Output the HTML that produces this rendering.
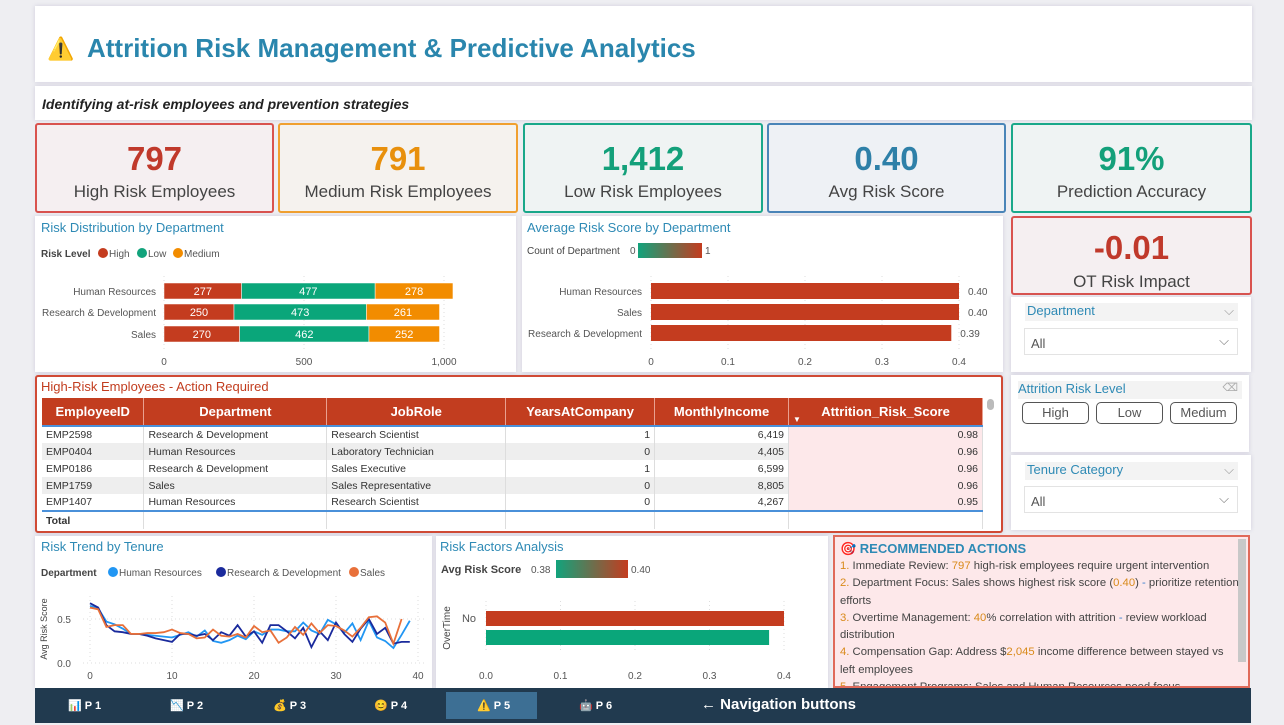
<!DOCTYPE html>
<html><head><meta charset="utf-8"><style>
*{box-sizing:border-box;margin:0;padding:0}
body{width:1284px;height:725px;background:#eeeef2;font-family:"Liberation Sans",sans-serif;position:relative;overflow:hidden;color:#333}
.p{position:absolute;background:#fff;box-shadow:0 0 4px rgba(120,110,160,.25)}
.kpi{position:absolute;border:2px solid;border-radius:3px;text-align:center}
.kpi .n{font-size:33px;font-weight:bold;margin-top:14px;line-height:40px}
.kpi .l{font-size:17px;color:#444;margin-top:3px}
.t{position:absolute;font-size:13px;color:#2e8ab5}
svg text{font-family:"Liberation Sans",sans-serif}
table{border-collapse:collapse;font-size:10.5px}
th{background:#c23d1f;color:#fff;font-size:13px;font-weight:bold;height:28px;border-right:1px solid #e9a090}
td{height:17px;padding:0 4px;border-right:1px solid #ddd;color:#333}
.sl{position:absolute;font-size:13px;color:#2e8ab5;background:#f3f3f3}
.dd{position:absolute;border:1px solid #e3e3e3;font-size:13px;color:#555;padding:7px 6px}
.btn{position:absolute;border:1px solid #555;border-radius:5px;font-size:13px;color:#555;text-align:center;line-height:20px;height:22px}
.nav{position:absolute;color:#fff;font-size:11px;font-weight:bold;top:699px}
</style></head><body>
<div class="p" style="left:35px;top:6px;width:1217px;height:76px">
<div style="position:absolute;left:12px;top:30px;font-size:22px">⚠️</div>
<div style="position:absolute;left:52px;top:27px;font-size:26px;font-weight:bold;color:#2a86ad">Attrition Risk Management &amp; Predictive Analytics</div></div>
<div class="p" style="left:35px;top:86px;width:1217px;height:34px">
<div style="position:absolute;left:7px;top:10px;font-size:14px;font-style:italic;font-weight:bold;color:#222">Identifying at-risk employees and prevention strategies</div></div>

<div class="kpi" style="left:35px;top:123px;width:239px;height:90px;border-color:#d9534f;background:#f5eff1"><div class="n" style="color:#c0392b">797</div><div class="l">High Risk Employees</div></div>
<div class="kpi" style="left:278px;top:123px;width:240px;height:90px;border-color:#f0a030;background:#f5f2ee"><div class="n" style="color:#e8900c">791</div><div class="l">Medium Risk Employees</div></div>
<div class="kpi" style="left:523px;top:123px;width:240px;height:90px;border-color:#1aa88a;background:#eff3f3"><div class="n" style="color:#13a07a">1,412</div><div class="l">Low Risk Employees</div></div>
<div class="kpi" style="left:767px;top:123px;width:239px;height:90px;border-color:#4a85b8;background:#eef1f5"><div class="n" style="color:#2e80a8">0.40</div><div class="l">Avg Risk Score</div></div>
<div class="kpi" style="left:1011px;top:123px;width:241px;height:90px;border-color:#1aa88a;background:#eff3f3"><div class="n" style="color:#13a07a">91%</div><div class="l">Prediction Accuracy</div></div>
<div class="kpi" style="left:1011px;top:216px;width:241px;height:79px;border-color:#d9534f;background:#f5eff1;overflow:hidden"><div class="n" style="color:#c0392b;margin-top:10px">-0.01</div><div class="l" style="margin-top:4px">OT Risk Impact</div></div>

<div class="p" style="left:35px;top:216px;width:481px;height:156px">
<div class="t" style="left:6px;top:4px">Risk Distribution by Department</div>
<svg id="dist" width="481" height="156" style="position:absolute;left:0;top:0"></svg></div>

<div class="p" style="left:522px;top:216px;width:481px;height:156px">
<div class="t" style="left:5px;top:4px">Average Risk Score by Department</div>
<svg id="avg" width="481" height="156" style="position:absolute;left:0;top:0"></svg></div>

<div class="p" style="left:1011px;top:297px;width:240px;height:75px">
<div class="sl" style="left:14px;top:6px;width:213px;height:18px;padding-left:2px">Department<span style="position:absolute;right:4px;color:#999">⌵</span></div>
<div class="dd" style="left:13px;top:31px;width:214px;height:27px">All<span style="position:absolute;right:8px;top:4px;color:#777">⌵</span></div></div>
<div class="p" style="left:1011px;top:375px;width:238px;height:77px">
<div class="sl" style="left:7px;top:6px;width:224px;height:18px">Attrition Risk Level<span style="position:absolute;right:4px;color:#aaa;font-size:11px">⌫</span></div>
<div class="btn" style="left:11px;top:27px;width:67px">High</div>
<div class="btn" style="left:85px;top:27px;width:67px">Low</div>
<div class="btn" style="left:159px;top:27px;width:67px">Medium</div></div>
<div class="p" style="left:1011px;top:455px;width:240px;height:75px">
<div class="sl" style="left:14px;top:7px;width:213px;height:18px;padding-left:2px">Tenure Category<span style="position:absolute;right:4px;color:#999">⌵</span></div>
<div class="dd" style="left:13px;top:31px;width:214px;height:27px">All<span style="position:absolute;right:8px;top:4px;color:#777">⌵</span></div></div>

<div class="p" style="left:35px;top:375px;width:968px;height:158px;border:2px solid #d04a35;border-radius:3px">
<div style="position:absolute;left:4px;top:2px;font-size:13px;color:#c23d1f">High-Risk Employees - Action Required</div>
<div style="position:absolute;left:950px;top:22px;width:7px;height:11px;border-radius:4px;background:#bbb"></div>
<table style="position:absolute;left:5px;top:21px;width:941px">
<colgroup><col style="width:102px"><col style="width:183px"><col style="width:179px"><col style="width:149px"><col style="width:134px"><col style="width:194px"></colgroup>
<tr style="border-bottom:2px solid #4a90d9"><th>EmployeeID</th><th>Department</th><th>JobRole</th><th>YearsAtCompany</th><th>MonthlyIncome</th><th style="position:relative">Attrition_Risk_Score<span style="position:absolute;left:4px;bottom:1px;font-size:8px">▼</span></th></tr>
<tbody id="tb"></tbody>
<tr style="border-top:2px solid #4a90d9"><td style="font-weight:bold;height:18px">Total</td><td></td><td></td><td></td><td></td><td></td></tr>
</table></div>

<div class="p" style="left:35px;top:536px;width:397px;height:152px">
<div class="t" style="left:6px;top:3px">Risk Trend by Tenure</div>
<svg id="trend" width="397" height="152" style="position:absolute;left:0;top:0"></svg></div>

<div class="p" style="left:436px;top:536px;width:392px;height:152px">
<div class="t" style="left:4px;top:3px">Risk Factors Analysis</div>
<svg id="fact" width="392" height="152" style="position:absolute;left:0;top:0"></svg></div>

<div style="position:absolute;left:833px;top:535px;width:417px;height:153px;background:#fde8ea;border:2px solid #e06a5a;overflow:hidden;font-size:11.3px;line-height:17.3px;color:#444">
<div style="position:absolute;left:403px;top:2px;width:8px;height:123px;background:#c8c8c8"></div>
<div style="position:absolute;left:5px;top:3px;width:400px">
<div style="font-size:13px;color:#2e8ab5;font-weight:bold;line-height:18px">🎯 RECOMMENDED ACTIONS</div>
<div><span style="color:#d98a1a">1.</span> Immediate Review: <span style="color:#d98a1a">797</span> high-risk employees require urgent intervention</div>
<div><span style="color:#d98a1a">2.</span> Department Focus: Sales shows highest risk score (<span style="color:#d98a1a">0.40</span>) <span style="color:#3a7fd0">-</span> prioritize retention efforts</div>
<div><span style="color:#d98a1a">3.</span> Overtime Management: <span style="color:#d98a1a">40</span>% correlation with attrition <span style="color:#3a7fd0">-</span> review workload distribution</div>
<div><span style="color:#d98a1a">4.</span> Compensation Gap: Address $<span style="color:#d98a1a">2,045</span> income difference between stayed vs left employees</div>
<div><span style="color:#d98a1a">5.</span> Engagement Programs: Sales and Human Resources need focus</div>
</div></div>

<div style="position:absolute;left:35px;top:688px;width:1216px;height:35px;background:#213a4f">
<div style="position:absolute;left:411px;top:4px;width:91px;height:27px;background:#3d6f94"></div></div>
<div class="nav" style="left:68px">📊 P 1</div>
<div class="nav" style="left:170px">📉 P 2</div>
<div class="nav" style="left:273px">💰 P 3</div>
<div class="nav" style="left:374px">😊 P 4</div>
<div class="nav" style="left:477px">⚠️ P 5</div>
<div class="nav" style="left:579px">🤖 P 6</div>
<div class="nav" style="left:701px;top:696px;font-size:15px">← Navigation buttons</div>

<script>
const NS="http://www.w3.org/2000/svg";
function mk(p,tag,a,txt){const e=document.createElementNS(NS,tag);for(const k in a)e.setAttribute(k,a[k]);if(txt!==undefined)e.textContent=txt;p.appendChild(e);return e;}
// ---- Risk distribution data
const distDepts=["Human Resources","Research & Development","Sales"];
const distHigh=[277,250,270];
const distLow=[477,473,462];
const distMed=[278,261,252];
const distTicks=[0,500,1000];
const distTickLabels=["0","500","1,000"];
// ---- Avg risk data
const avgDepts=["Human Resources","Sales","Research & Development"];
const avgVals=[0.40,0.40,0.39];
const avgTicks=[0,0.1,0.2,0.3,0.4];
// ---- Trend data
const tenure=[0,1,2,3,4,5,6,7,8,9,10,11,12,13,14,15,16,17,18,19,20,21,22,23,24,25,26,27,28,29,30,31,32,33,34,35,36,37,38,39];
const trendHR=[0.65,0.62,0.47,0.44,0.39,0.33,0.33,0.32,0.31,0.30,0.29,0.32,0.35,0.30,0.37,0.25,0.23,0.26,0.31,0.27,0.36,0.32,0.38,0.38,0.36,0.36,0.46,0.37,0.33,0.49,0.44,0.34,0.45,0.26,0.48,0.29,0.25,0.17,0.32,0.48];
const trendRD=[0.68,0.63,0.43,0.36,0.35,0.33,0.33,0.31,0.28,0.26,0.24,0.33,0.33,0.31,0.33,0.26,0.35,0.31,0.43,0.30,0.36,0.23,0.43,0.43,0.36,0.28,0.40,0.18,0.36,0.26,0.46,0.33,0.24,0.39,0.50,0.33,0.40,0.22,0.24,0.24];
const trendSales=[0.63,0.61,0.41,0.43,0.43,0.33,0.33,0.34,0.34,0.35,0.38,0.34,0.33,0.28,0.29,0.38,0.31,0.30,0.33,0.29,0.42,0.35,0.37,0.23,0.29,0.41,0.32,0.45,0.34,0.43,0.42,0.37,0.30,0.40,0.52,0.53,0.46,0.22,0.50];
const trendXTicks=[0,10,20,30,40];
const trendYTicks=[0,0.5];
// ---- Factors data
const factorCats=["No",""];
const factorVals=[0.40,0.38];
const factorTicks=[0,0.1,0.2,0.3,0.4];
// ---- Table data
const empIds=["EMP2598","EMP0404","EMP0186","EMP1759","EMP1407"];
const empDepts=["Research & Development","Human Resources","Research & Development","Sales","Human Resources"];
const empRoles=["Research Scientist","Laboratory Technician","Sales Executive","Sales Representative","Research Scientist"];
const empYears=[1,0,1,0,0];
const empIncome=["6,419","4,405","6,599","8,805","4,267"];
const empScores=["0.98","0.96","0.96","0.96","0.95"];

// Risk distribution chart
(function(){
 const s=document.getElementById("dist");
 const x=v=>129+v*0.28, rowY=[67,88,110], h=16;
 mk(s,"text",{x:6,y:41,"font-size":10,"font-weight":"bold",fill:"#444"},"Risk Level");
 const leg=[["High","#c43c1f",63],["Low","#12a37c",102],["Medium","#f28c00",138]];
 leg.forEach(l=>{const c=mk(s,"circle",{cx:l[2]+5,cy:37,r:5,fill:l[1]});mk(s,"text",{x:l[2]+11,y:41,"font-size":10,fill:"#555"},l[0]);});
 distTicks.forEach((t,i)=>{mk(s,"line",{x1:x(t),x2:x(t),y1:60,y2:136,stroke:"#ddd","stroke-dasharray":"1,3"});mk(s,"text",{x:x(t),y:149,"font-size":10,fill:"#555","text-anchor":"middle"},distTickLabels[i]);});
 distDepts.forEach((d,i)=>{
  mk(s,"text",{x:121,y:rowY[i]+12,"font-size":10,fill:"#555","text-anchor":"end"},d);
  let acc=0;
  [[distHigh,"#c43c1f","high"],[distLow,"#0aa67a","low"],[distMed,"#f28c00","medium"]].forEach(sr=>{
   const v=sr[0][i];const r=mk(s,"rect",{x:x(acc),y:rowY[i],width:v*0.28,height:h,fill:sr[1],stroke:"#fff","stroke-width":0.5});
   
   
   mk(s,"text",{x:x(acc+v/2),y:rowY[i]+12,"font-size":11,fill:"#fff","text-anchor":"middle"},v);acc+=v;});
 });
})();
// Avg risk chart
(function(){
 const s=document.getElementById("avg");
 const x=v=>129+v*770, rowY=[67,88,109], h=16;
 mk(s,"text",{x:5,y:38,"font-size":10,fill:"#444"},"Count of Department");
 mk(s,"text",{x:108,y:38,"font-size":10,fill:"#555"},"0");
 const g=mk(s,"defs",{});const lg=mk(g,"linearGradient",{id:"gr"});mk(lg,"stop",{offset:0,"stop-color":"#12a37c"});mk(lg,"stop",{offset:1,"stop-color":"#c43c1f"});
 mk(s,"rect",{x:116,y:27,width:64,height:15,fill:"url(#gr)"});
 mk(s,"text",{x:183,y:38,"font-size":10,fill:"#555"},"1");
 avgTicks.forEach(t=>{mk(s,"line",{x1:x(t),x2:x(t),y1:60,y2:134,stroke:"#ddd","stroke-dasharray":"1,3"});mk(s,"text",{x:x(t),y:149,"font-size":10,fill:"#555","text-anchor":"middle"},String(t));});
 avgDepts.forEach((d,i)=>{
  mk(s,"text",{x:120,y:rowY[i]+12,"font-size":10,fill:"#555","text-anchor":"end"},d);
  const r=mk(s,"rect",{x:x(0),y:rowY[i],width:avgVals[i]*770,height:h,fill:"#c43c1f"});
  
  
  mk(s,"text",{x:x(avgVals[i])+9,y:rowY[i]+12,"font-size":10,fill:"#555"},avgVals[i].toFixed(2));
 });
})();
// Trend chart
(function(){
 const s=document.getElementById("trend");
 const x=v=>55+v*8.2, y=v=>127-v*88;
 mk(s,"text",{x:6,y:40,"font-size":10,"font-weight":"bold",fill:"#444"},"Department");
 const leg=[["Human Resources","#2196f3",73],["Research & Development","#1a2a9c",181],["Sales","#e8703a",314]];
 leg.forEach(l=>{mk(s,"circle",{cx:l[2]+5,cy:36,r:5,fill:l[1]});mk(s,"text",{x:l[2]+11,y:40,"font-size":10,fill:"#555"},l[0]);});
 trendYTicks.forEach(t=>{mk(s,"line",{x1:48,x2:390,y1:y(t),y2:y(t),stroke:"#ddd","stroke-dasharray":"1,3"});mk(s,"text",{x:36,y:y(t)+4,"font-size":10,fill:"#555","text-anchor":"end"},t.toFixed(1));});
 trendXTicks.forEach(t=>{mk(s,"line",{x1:x(t),x2:x(t),y1:60,y2:127,stroke:"#ddd","stroke-dasharray":"1,3"});mk(s,"text",{x:x(t),y:143,"font-size":10,fill:"#555","text-anchor":"middle"},t);});
 mk(s,"text",{x:0,y:0,"font-size":9,fill:"#444","text-anchor":"middle",transform:"translate(12,93) rotate(-90)"},"Avg Risk Score");
 [[trendHR,"#2196f3","hr"],[trendRD,"#1a2a9c","rd"],[trendSales,"#e8703a","sales"]].forEach(sr=>{
  const pts=sr[0].map((v,i)=>x(tenure[i])+","+y(v)).join(" ");
  const p=mk(s,"polyline",{points:pts,fill:"none",stroke:sr[1],"stroke-width":1.8});
  
  
 });
})();
// Factors chart
(function(){
 const s=document.getElementById("fact");
 const x=v=>50+v*745, rowY=[75,94];
 mk(s,"text",{x:5,y:37,"font-size":11,"font-weight":"bold",fill:"#444"},"Avg Risk Score");
 mk(s,"text",{x:95,y:37,"font-size":10,fill:"#555"},"0.38");
 const g=mk(s,"defs",{});const lg=mk(g,"linearGradient",{id:"gr2"});mk(lg,"stop",{offset:0,"stop-color":"#12a37c"});mk(lg,"stop",{offset:1,"stop-color":"#c43c1f"});
 mk(s,"rect",{x:120,y:24,width:72,height:18,fill:"url(#gr2)"});
 mk(s,"text",{x:195,y:37,"font-size":10,fill:"#555"},"0.40");
 mk(s,"text",{x:0,y:0,"font-size":10,fill:"#444","text-anchor":"middle",transform:"translate(14,92) rotate(-90)"},"OverTime");
 factorTicks.forEach(t=>{mk(s,"line",{x1:x(t),x2:x(t),y1:65,y2:115,stroke:"#ddd","stroke-dasharray":"1,3"});mk(s,"text",{x:x(t),y:143,"font-size":10,fill:"#555","text-anchor":"middle"},t.toFixed(1));});
 const cols=["#c43c1f","#0aa67a"];
 factorVals.forEach((v,i)=>{
  mk(s,"text",{x:40,y:rowY[i]+11,"font-size":11,fill:"#555","text-anchor":"end"},factorCats[i]);
  const r=mk(s,"rect",{x:x(0),y:rowY[i],width:v*745,height:15,fill:cols[i]});
  
  
 });
})();
// Table
(function(){
 const tb=document.getElementById("tb");
 empIds.forEach((id,i)=>{
  const tr=document.createElement("tr");
  
  
  tr.style.background=i%2?"#eeeeee":"#fff";
  const cells=[id,empDepts[i],empRoles[i],empYears[i],empIncome[i],empScores[i]];
  cells.forEach((c,j)=>{const td=document.createElement("td");td.textContent=c;if(j>=3)td.style.textAlign="right";if(j==5)td.style.background="#fde8ea";tr.appendChild(td);});
  tb.appendChild(tr);
 });
})();
</script>
</body></html>
